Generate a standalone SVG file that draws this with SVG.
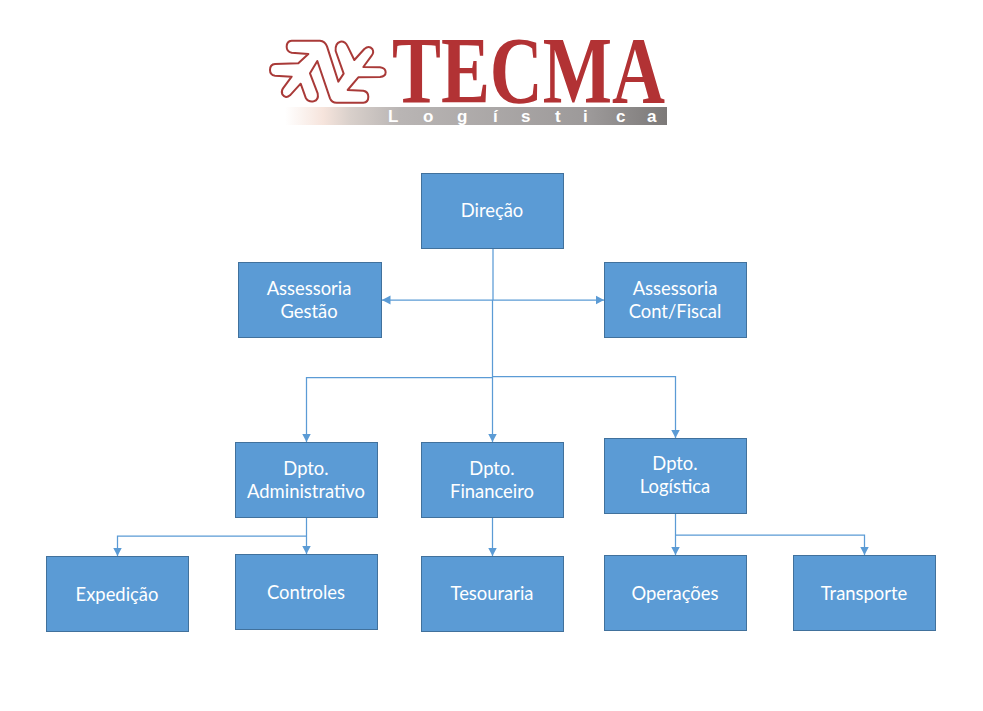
<svg xmlns="http://www.w3.org/2000/svg" width="983" height="711" viewBox="0 0 983 711">
<style>
.box{fill:#5B9BD5;stroke:#41719C;stroke-width:1}
.lbl{font-family:"Lato","Noto Sans",sans-serif;font-size:18.4px;fill:#fff;text-anchor:middle}
.cn{fill:none;stroke:#5B9BD5;stroke-width:1.25}
.end{marker-end:url(#ah)}
</style>
<defs>
<marker id="ah" markerUnits="userSpaceOnUse" markerWidth="10" markerHeight="10" refX="8.5" refY="5" orient="auto-start-reverse"><path d="M0 0.5L8.5 5L0 9.5Z" fill="#5B9BD5"/></marker>
<linearGradient id="bar" x1="0" x2="1" y1="0" y2="0"><stop offset="0" stop-color="#fff"/><stop offset="0.1" stop-color="#f6e4dc"/><stop offset="0.17" stop-color="#d9d0cb"/><stop offset="0.3" stop-color="#b9b5b4"/><stop offset="0.8" stop-color="#9c9999"/><stop offset="1" stop-color="#7c7978"/></linearGradient>
</defs>
<rect width="983" height="711" fill="#fff"/>
<g id="logo">
<path transform="translate(265 35) scale(.3333)" d="M80 17L165 17Q180 18 186 34L220 140L236 116L212 48Q210 24 226 20Q240 18 248 34L268 75L298 42Q312 30 322 42Q328 52 320 62L295 96L345 97Q362 99 362 112Q362 125 345 126L280 127L248 165L295 167Q310 170 310 185Q310 202 295 203L215 203Q200 203 195 190L157 78L135 115L158 175Q162 195 146 199Q130 202 122 188L107 146L75 181Q62 192 52 178Q48 170 54 160L80 125L30 122Q15 120 15 105Q15 88 30 87L100 85L130 57L80 53Q65 50 65 35Q65 18 80 17Z" fill="#fff" stroke="#A93A38" stroke-width="6" stroke-linejoin="round"/>
<rect x="285" y="107" width="382" height="18" fill="url(#bar)"/>
<text x="392" y="103" font-family="Liberation Serif,serif" font-weight="700" font-size="95" fill="#B23234" textLength="273" lengthAdjust="spacingAndGlyphs">TECMA</text>
<text x="388 423 457 493 521 555 583 616 647" y="122" font-family="Liberation Sans,sans-serif" font-weight="700" font-size="17" fill="#fff">Logística</text>
</g>
<g id="connectors">
<path class="cn" d="M493 249V300"/>
<path class="cn" d="M492.5 300V442" style="marker-end:url(#ah)"/>
<path class="cn" d="M382 300H604" style="marker-start:url(#ah);marker-end:url(#ah)"/>
<path class="cn end" d="M492.5 377.5H306.5V442"/>
<path class="cn end" d="M492.5 376.5H675.5V438"/>
<path class="cn end" d="M306.5 518V554"/>
<path class="cn end" d="M306.5 536H117.5V556"/>
<path class="cn end" d="M492.5 518V556"/>
<path class="cn end" d="M675.5 514V555"/>
<path class="cn end" d="M675.5 535H864.5V555"/>
</g>
<g id="direcao"><rect class="box" x="421.5" y="173.5" width="142" height="75"/><text class="lbl" x="492" y="217">Direção</text></g>
<g id="assessoria-gestao"><rect class="box" x="238.5" y="262.5" width="143" height="75"/><text class="lbl" x="309" y="295">Assessoria</text><text class="lbl" x="309" y="318">Gestão</text></g>
<g id="assessoria-cont"><rect class="box" x="604.5" y="262.5" width="142" height="75"/><text class="lbl" x="675" y="295">Assessoria</text><text class="lbl" x="675" y="318">Cont/Fiscal</text></g>
<g id="dpto-adm"><rect class="box" x="235.5" y="442.5" width="142" height="75"/><text class="lbl" x="306" y="475">Dpto.</text><text class="lbl" x="306" y="498">Administrativo</text></g>
<g id="dpto-fin"><rect class="box" x="421.5" y="442.5" width="142" height="75"/><text class="lbl" x="492" y="475">Dpto.</text><text class="lbl" x="492" y="498">Financeiro</text></g>
<g id="dpto-log"><rect class="box" x="604.5" y="438.5" width="142" height="75"/><text class="lbl" x="675" y="470">Dpto.</text><text class="lbl" x="675" y="493">Logística</text></g>
<g id="expedicao"><rect class="box" x="46.5" y="556.5" width="142" height="75"/><text class="lbl" x="117" y="601">Expedição</text></g>
<g id="controles"><rect class="box" x="235.5" y="554.5" width="142" height="75"/><text class="lbl" x="306" y="599">Controles</text></g>
<g id="tesouraria"><rect class="box" x="421.5" y="556.5" width="142" height="75"/><text class="lbl" x="492" y="600">Tesouraria</text></g>
<g id="operacoes"><rect class="box" x="604.5" y="555.5" width="142" height="75"/><text class="lbl" x="675" y="600">Operações</text></g>
<g id="transporte"><rect class="box" x="793.5" y="555.5" width="142" height="75"/><text class="lbl" x="864" y="600">Transporte</text></g>
</svg>
